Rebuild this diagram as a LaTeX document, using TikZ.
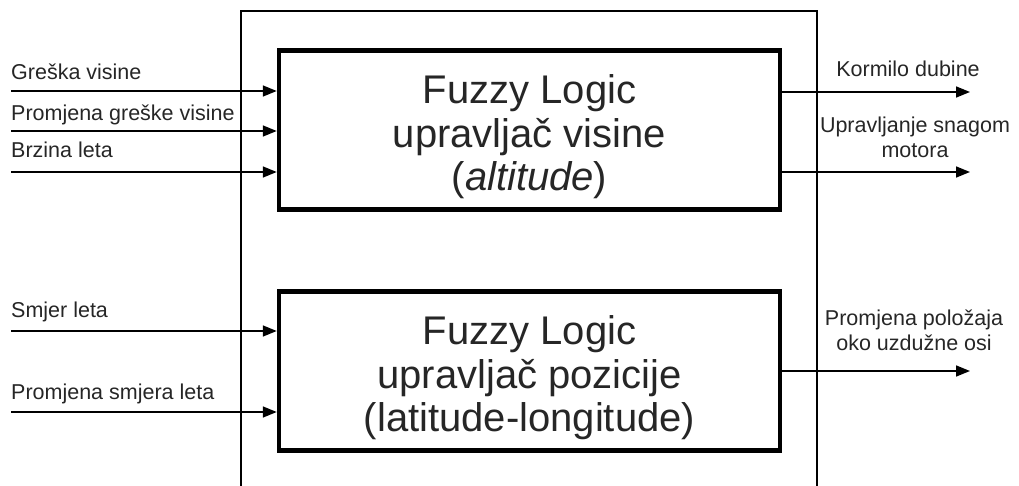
\documentclass[tikz,border=0pt]{standalone}
\usepackage{fontspec}
\setmainfont{Liberation Sans}
\usepackage{tikz}
\usetikzlibrary{arrows.meta}

\tikzset{
  frame/.style={line width=1.6pt},
  ctrlbox/.style={draw, line width=4.5pt, minimum width=501pt, minimum height=159pt, inner sep=0pt},
  bigtext/.style={align=center, text=black!85, font={\fontsize{40}{43.5}\selectfont}},
  lbl/.style={text=black!85, inner sep=0pt, font={\fontsize{21.5}{25}\selectfont}},
  arr/.style={line width=1.6pt, -{Triangle[length=14pt,width=11pt]}}
}

\begin{document}
\begin{tikzpicture}[x=1pt,y=-1pt]
\useasboundingbox (0,0) rectangle (1019,486);

% outer frame, open at the bottom
\draw[frame] (241,486) -- (241,11) -- (817,11) -- (817,486);

% the two fuzzy controllers
\node[ctrlbox] (visina) at (529.5,130) {};
\node[ctrlbox] (pozicija) at (529.5,371) {};
\node[bigtext] (visinaTxt) at ([yshift=-7pt]visina.center)
  {Fuzzy Logic\\upravljač visine\\(\textit{altitude})};
\node[bigtext] (pozicijaTxt) at ([yshift=-7pt]pozicija.center)
  {Fuzzy Logic\\upravljač pozicije\\(latitude-longitude)};

% inputs
\foreach \ya/\yl/\txt [count=\i] in {91/80/Greška visine, 131/121/Promjena greške visine, 172/158/Brzina leta} {
  \node[lbl, anchor=base west] (ulazV\i) at (11,\yl) {\txt};
  \coordinate (izvorV\i) at (11,\ya);
  \draw[arr] (izvorV\i) -- (izvorV\i -| visina.west);
}
\foreach \ya/\yl/\txt [count=\i] in {331/317/Smjer leta, 412/399/Promjena smjera leta} {
  \node[lbl, anchor=base west] (ulazP\i) at (11,\yl) {\txt};
  \coordinate (izvorP\i) at (11,\ya);
  \draw[arr] (izvorP\i) -- (izvorP\i -| pozicija.west);
}

% outputs
\coordinate (ciljV1) at (970,92);
\coordinate (ciljV2) at (970,172);
\coordinate (ciljP) at (970,371);
\draw[arr] (visina.east |- ciljV1) -- (ciljV1);
\draw[arr] (visina.east |- ciljV2) -- (ciljV2);
\draw[arr] (pozicija.east |- ciljP) -- (ciljP);

% base of a two-line label is the baseline of its last line
\node[lbl, anchor=base] (izlazV1) at (908,77) {Kormilo dubine};
\node[lbl, anchor=base, align=center] (izlazV2) at (915,158) {Upravljanje snagom\\motora};
\node[lbl, anchor=base, align=center] (izlazP) at (914,350) {Promjena položaja\\oko uzdužne osi};

\end{tikzpicture}
\end{document}
